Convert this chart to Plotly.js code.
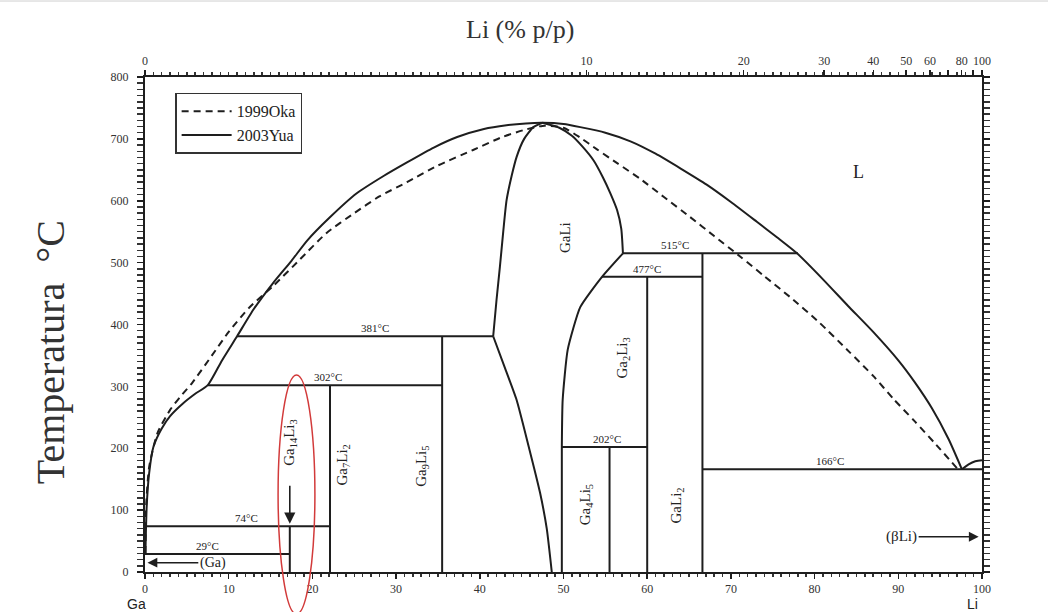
<!DOCTYPE html>
<html><head><meta charset="utf-8">
<script src="https://cdn.plot.ly/plotly-3.0.1.min.js"></script>
<style>html,body{margin:0;padding:0;background:#fff;}#chart{width:1048px;height:612px;}</style>
</head><body><div id="chart"></div>
<script>
// ---- data: Ga-Li phase diagram (x = at.% Li, T = °C) ----
const solidLiqX = [0.05, 0.2, 0.5, 1, 2, 3, 4.5, 6, 7.5, 9.2, 11, 13, 15.3, 17.5, 19.4, 22, 25.3, 28.5, 31.3, 34.5, 37.3, 40.5, 43.2, 45.5, 47.5, 50, 52, 55, 58, 61, 64, 67.1, 70, 73.1, 75.5, 77.9, 81, 84, 87, 90, 92, 94, 96, 97.6];
const solidLiqT = [30, 105, 160, 202, 232, 252, 272, 288, 302, 342, 381, 425, 467, 503, 536, 572, 612, 640, 662, 686, 703, 716, 722, 725, 726, 724, 719, 710, 696, 676, 652, 626, 598, 566, 541, 515, 473, 430, 388, 342, 306, 265, 215, 166];
const dashLiqX = [0.05, 0.15, 0.5, 1.5, 3, 4.2, 5.6, 8, 10, 12.5, 15.3, 18.5, 21.7, 25, 28, 31.3, 35, 39.2, 42.5, 45.2, 47.5, 50, 52, 54, 56.5, 59.1, 62, 65.1, 68, 71.1, 74, 77.1, 80.5, 84.2, 87, 89.4, 92, 94.5, 97];
const dashLiqT = [30, 110, 170, 225, 262, 283, 305, 350, 388, 428, 462, 505, 548, 580, 607, 630, 657, 682, 702, 714, 721, 718, 702, 683, 660, 636, 606, 574, 543, 510, 478, 444, 404, 355, 317, 280, 243, 206, 168];
const liEutX = [97.6, 98.4, 99.2, 100];
const liEutT = [166, 174, 179, 180.6];
const gaLiLeftX = [41.6, 42.0, 42.4, 42.8, 43.2, 43.8, 44.4, 45.3, 46.4, 47.5];
const gaLiLeftT = [381, 440, 493, 550, 601, 640, 671, 700, 719, 726];
const gaLiRightX = [47.5, 49.5, 51, 52.3, 53.6, 54.7, 55.6, 56.4, 56.9, 57.1];
const gaLiRightT = [726, 718, 705, 687, 665, 638, 612, 585, 555, 515];
const gaLiLowX = [57.1, 54.6, 52, 50.5, 49.9, 49.8, 49.8];
const gaLiLowT = [515, 477, 428, 359, 278, 202, 0];
const gaLiDiagX = [41.6, 43, 44.4, 45.8, 47.2, 48.0, 48.6];
const gaLiDiagT = [381, 330, 278, 205, 128, 70, 0];
// invariant (horizontal) lines
const isoT  = [381, 302, 74, 29, 515, 477, 202, 166];
const isoX0 = [11, 7.5, 0, 0, 57.1, 54.6, 49.8, 66.6];
const isoX1 = [41.6, 35.5, 22.1, 17.3, 78, 66.6, 60, 100];
// compound (vertical) lines
const compX   = [17.3, 22.1, 35.5, 55.5, 60, 66.6];
const compTop = [74, 302, 381, 202, 477, 515];
// axes
const bottomTicks = [0, 10, 20, 30, 40, 50, 60, 70, 80, 90, 100];
const topWt = [0, 10, 20, 30, 40, 50, 60, 70, 80, 90, 100];
const topLabels = ['0', '10', '20', '30', '40', '50', '60', '', '80', '', '100'];
const massLi = 6.94, massGa = 69.723;
const topAt = topWt.map(w => w >= 100 ? 100 : 100 * (w / massLi) / (w / massLi + (100 - w) / massGa));

// ---- build ----
const segX = [], segY = [];
isoT.forEach((t, i) => { segX.push(isoX0[i], isoX1[i], null); segY.push(t, t, null); });
compX.forEach((x, i) => { segX.push(x, x, null); segY.push(0, compTop[i], null); });

const ink = '#1e1e1e';
const serif = 'Liberation Serif, Times New Roman, serif';
const lw = 2;
const traces = [
  {x: dashLiqX, y: dashLiqT, mode: 'lines', name: '1999Oka', line: {color: ink, width: lw, dash: '7px,5px', shape: 'spline', smoothing: 0.6}},
  {x: solidLiqX, y: solidLiqT, mode: 'lines', name: '2003Yua', line: {color: ink, width: lw, shape: 'spline', smoothing: 0.6}},
  {x: segX, y: segY, mode: 'lines', showlegend: false, line: {color: ink, width: lw}},
  {x: liEutX, y: liEutT, mode: 'lines', showlegend: false, line: {color: ink, width: lw, shape: 'spline'}},
  {x: gaLiLeftX, y: gaLiLeftT, mode: 'lines', showlegend: false, line: {color: ink, width: lw, shape: 'spline', smoothing: 0.6}},
  {x: gaLiRightX, y: gaLiRightT, mode: 'lines', showlegend: false, line: {color: ink, width: lw, shape: 'spline', smoothing: 0.6}},
  {x: gaLiLowX, y: gaLiLowT, mode: 'lines', showlegend: false, line: {color: ink, width: lw, shape: 'spline', smoothing: 0.5}},
  {x: gaLiDiagX, y: gaLiDiagT, mode: 'lines', showlegend: false, line: {color: ink, width: lw, shape: 'spline', smoothing: 0.5}},
  {x: [0], y: [0], xaxis: 'x2', mode: 'markers', marker: {opacity: 0}, showlegend: false, hoverinfo: 'skip'}
];

const small = {family: serif, size: 11, color: '#222'};
const phase = {family: serif, size: 15, color: '#222'};
function lab(text, x, y, font, extra) {
  return Object.assign({text: text, x: x, y: y, xref: 'x', yref: 'y', showarrow: false, font: font}, extra || {});
}
function paperLab(text, x, y, font, extra) {
  return Object.assign({text: text, x: x, y: y, xref: 'paper', yref: 'paper', xanchor: 'center', yanchor: 'middle', showarrow: false, font: font}, extra || {});
}
const annotations = [
  lab('381°C', 27.5, 381, small, {yanchor: 'bottom'}),
  lab('302°C', 21.9, 302, small, {yanchor: 'bottom'}),
  lab('74°C', 12.1, 74, small, {yanchor: 'bottom'}),
  lab('29°C', 7.5, 29, small, {yanchor: 'bottom'}),
  lab('515°C', 63.3, 515, small, {yanchor: 'bottom'}),
  lab('477°C', 60, 477, small, {yanchor: 'bottom'}),
  lab('202°C', 55.2, 202, small, {yanchor: 'bottom'}),
  lab('166°C', 81.8, 166, small, {yanchor: 'bottom'}),
  lab('<b>180.6°C</b>', 101, 178, {family: serif, size: 11, color: '#222'}, {xanchor: 'left'}),
  lab('<b>7741°C</b>', -1.3, 31, {family: serif, size: 11, color: '#222'}, {xanchor: 'right'}),
  lab('L', 85.2, 646, {family: serif, size: 18, color: '#222'}),
  lab('GaLi', 50.2, 540, phase, {textangle: -90}),
  lab('Ga<sub>2</sub>Li<sub>3</sub>', 57, 345, phase, {textangle: -90}),
  lab('Ga<sub>4</sub>Li<sub>5</sub>', 52.7, 108, phase, {textangle: -90}),
  lab('GaLi<sub>2</sub>', 63.6, 108, phase, {textangle: -90}),
  lab('Ga<sub>7</sub>Li<sub>2</sub>', 23.6, 173, phase, {textangle: -90}),
  lab('Ga<sub>9</sub>Li<sub>5</sub>', 33.1, 170, phase, {textangle: -90}),
  lab('Ga<sub>14</sub>Li<sub>3</sub>', 17.3, 210, phase, {textangle: -90}),
  {text: '', x: 17.3, y: 78, ax: 17.3, ay: 142, xref: 'x', yref: 'y', axref: 'x', ayref: 'y', showarrow: true, arrowhead: 2, arrowsize: 1.4, arrowwidth: 1.6, arrowcolor: ink},
  {text: '(Ga)', x: 0.3, y: 15, ax: 8.1, ay: 15, xref: 'x', yref: 'y', axref: 'x', ayref: 'y', showarrow: true, arrowhead: 2, arrowsize: 1.4, arrowwidth: 1.4, arrowcolor: ink, font: {family: serif, size: 14, color: '#222'}},
  {text: '(βLi)', x: 99.6, y: 57, ax: 90.4, ay: 57, xref: 'x', yref: 'y', axref: 'x', ayref: 'y', showarrow: true, arrowhead: 2, arrowsize: 1.4, arrowwidth: 1.4, arrowcolor: ink, font: {family: serif, size: 15, color: '#222'}},
  paperLab('Temperatura  °C', -0.1135, 0.444, {family: serif, size: 40, color: '#333'}, {textangle: -90}),
  paperLab('Li (% p/p)', 0.448, 1.095, {family: serif, size: 26, color: '#333'}),
  paperLab('Ga', -0.0096, -0.065, {family: 'Liberation Sans, Arial, sans-serif', size: 14, color: '#222'}),
  paperLab('Li', 0.989, -0.065, {family: 'Liberation Sans, Arial, sans-serif', size: 14, color: '#222'})
];

const tickFont = {family: serif, size: 12, color: '#333'};
const minorTicks = (d) => ({tickmode: 'linear', tick0: 0, dtick: d, ticks: 'outside', ticklen: 3, tickwidth: 1.5, tickcolor: '#333', showgrid: false});
const axisBase = {showgrid: false, zeroline: false, showline: true, linewidth: 2, linecolor: ink,
  ticks: 'outside', ticklen: 5, tickwidth: 1.5, tickcolor: ink, tickfont: tickFont, fixedrange: true};

const layout = {
  width: 1048, height: 612,
  margin: {l: 145, r: 66, t: 77, b: 40},
  paper_bgcolor: '#fff', plot_bgcolor: '#fff',
  hovermode: false,
  showlegend: true,
  legend: {x: 0.036, y: 0.968, xanchor: 'left', yanchor: 'top', bgcolor: '#fff', bordercolor: '#333', borderwidth: 1.5,
    font: {family: serif, size: 16, color: '#222'}, itemwidth: 50, tracegroupgap: 0},
  xaxis: Object.assign({}, axisBase, {range: [0, 100], tickmode: 'array', tickvals: bottomTicks, ticklabelstandoff: 0, minor: minorTicks(1)}),
  xaxis2: Object.assign({}, axisBase, {overlaying: 'x', side: 'top', range: [0, 100], tickmode: 'array', tickvals: topAt, ticktext: topLabels, minor: minorTicks(1)}),
  yaxis: Object.assign({}, axisBase, {range: [0, 800], tickmode: 'linear', tick0: 0, dtick: 100, ticklen: 6, mirror: 'allticks', ticklabelstandoff: 6, minor: minorTicks(10)}),
  shapes: [
    {type: 'circle', xref: 'paper', yref: 'paper', x0: 0.159, x1: 0.203, y0: -0.085, y1: 0.398, line: {color: '#d23a3a', width: 1.5}},
    {type: 'line', xref: 'paper', yref: 'paper', x0: -0.175, x1: 1.08, y0: 1.1535, y1: 1.1535, line: {color: '#cfcfcf', width: 1}}
  ],
  annotations: annotations
};

Plotly.newPlot('chart', traces, layout, {displayModeBar: false, staticPlot: true});
</script>
</body></html>
